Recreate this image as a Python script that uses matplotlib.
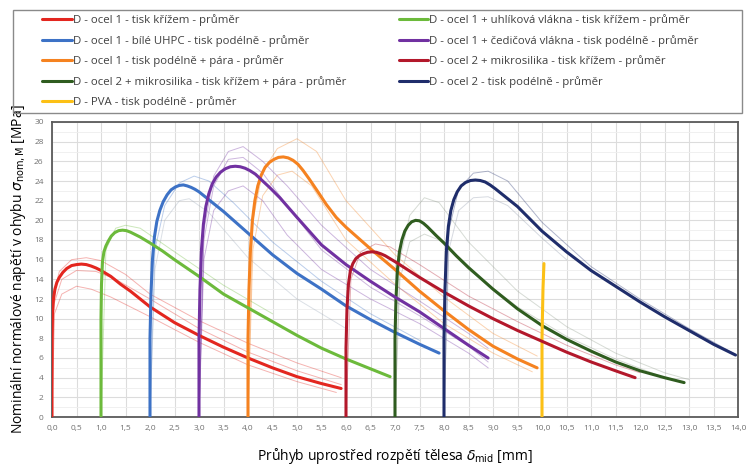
import numpy as np
import matplotlib
matplotlib.use('Agg')
import matplotlib.pyplot as plt
from matplotlib.patches import Rectangle
from matplotlib.ticker import MultipleLocator, FuncFormatter

plt.rcParams['font.family'] = ['Open Sans', 'DejaVu Sans']
plt.rcParams['mathtext.fontset'] = 'dejavusans'

# Legend labels (order as in the legend: left column, then right column)
labels = [
    'D - ocel 1 - tisk křížem - průměr',
    'D - ocel 1 - bílé UHPC - tisk podélně - průměr',
    'D - ocel 1 - tisk podélně + pára - průměr',
    'D - ocel 2 + mikrosilika - tisk křížem + pára - průměr',
    'D - PVA - tisk podélně - průměr',
    'D - ocel 1 + uhlíková vlákna - tisk křížem - průměr',
    'D - ocel 1 + čedičová vlákna - tisk podélně - průměr',
    'D - ocel 2 + mikrosilika - tisk křížem - průměr',
    'D - ocel 2 - tisk podélně - průměr',
]
colors = ['#e3261f', '#3d72c6', '#f58220', '#2f5c1f', '#fcc015',
          '#6cba3b', '#7131a1', '#b3182b', '#1f2d6b']

# Mean curves (deflection [mm], stress [MPa])
red_x = [0, 0.0, 0.01, 0.03, 0.06, 0.1, 0.15, 0.22, 0.3, 0.4, 0.5, 0.6, 0.7, 0.8, 0.9, 1.0, 1.2, 1.4, 1.6, 1.8,
         2.0, 2.5, 3.0, 3.5, 4.0, 4.5, 5.0, 5.5, 5.9]
red_y = [0, 8, 10.5, 12.0, 13.0, 13.7, 14.2, 14.7, 15.1, 15.4, 15.5, 15.55, 15.5, 15.35, 15.15, 14.9, 14.3, 13.5, 12.8, 12.0,
         11.2, 9.6, 8.3, 7.1, 6.0, 5.0, 4.1, 3.4, 2.9]
blue_x = [2.0, 2.0, 2.02, 2.05, 2.09, 2.14, 2.2, 2.27, 2.35, 2.43, 2.52, 2.6, 2.68, 2.76, 2.84, 2.92, 3.0, 3.2, 3.5,
          4.0, 4.5, 5.0, 5.5, 6.0, 6.5, 7.0, 7.5, 7.9]
blue_y = [0, 8, 12.5, 16.0, 18.3, 19.9, 21.0, 21.9, 22.6, 23.1, 23.4, 23.55, 23.6, 23.5, 23.35, 23.15, 22.9, 22.1, 20.9,
          18.7, 16.5, 14.6, 13.0, 11.3, 9.9, 8.6, 7.4, 6.5]
orange_x = [4.0, 4.0, 4.02, 4.05, 4.09, 4.14, 4.2, 4.27, 4.35, 4.44, 4.53, 4.62, 4.72, 4.82, 4.92, 5.02, 5.12, 5.25,
            5.4, 5.6, 5.8, 6.0, 6.5, 7.0, 7.5, 8.0, 8.5, 9.0, 9.5, 9.9]
orange_y = [0, 8, 13, 17, 20.0, 22.0, 23.5, 24.6, 25.4, 25.9, 26.2, 26.4, 26.45, 26.35, 26.1, 25.7, 25.1, 24.2,
            23.1, 21.6, 20.3, 19.3, 17.1, 15.0, 12.8, 10.8, 8.9, 7.2, 5.9, 5.0]
dgreen_x = [7.0, 7.0, 7.02, 7.05, 7.09, 7.14, 7.2, 7.27, 7.34, 7.42, 7.5, 7.58, 7.66, 7.75, 7.85, 8.0, 8.25, 8.5,
            9.0, 9.5, 10.0, 10.5, 11.0, 11.5, 12.0, 12.5, 12.9]
dgreen_y = [0, 8, 12, 15.0, 16.8, 18.0, 18.9, 19.5, 19.85, 20.0, 19.95, 19.7, 19.35, 18.9, 18.4, 17.7, 16.4, 15.2,
            13.0, 11.0, 9.3, 7.9, 6.7, 5.6, 4.7, 4.0, 3.5]
yellow_x = [10.0, 10.0, 10.02, 10.04]
yellow_y = [0, 8, 13, 15.6]
green_x = [1.0, 1.0, 1.01, 1.03, 1.06, 1.1, 1.15, 1.21, 1.28, 1.36, 1.44, 1.52, 1.6, 1.7, 1.8, 1.9, 2.0, 2.25, 2.5,
           3.0, 3.5, 4.0, 4.5, 5.0, 5.5, 6.0, 6.5, 6.9]
green_y = [0, 10, 13.5, 15.8, 16.8, 17.4, 17.9, 18.4, 18.75, 18.95, 19.0, 18.95, 18.8, 18.55, 18.3, 18.0, 17.7, 16.9, 16.0,
           14.3, 12.5, 11.1, 9.7, 8.3, 7.0, 5.9, 4.9, 4.1]
purple_x = [3.0, 3.0, 3.02, 3.05, 3.09, 3.14, 3.2, 3.27, 3.35, 3.44, 3.54, 3.64, 3.74, 3.84, 3.94, 4.04, 4.15, 4.3,
            4.45, 4.65, 5.0, 5.5, 6.0, 6.5, 7.0, 7.5, 8.0, 8.5, 8.9]
purple_y = [0, 8, 13, 17, 19.6, 21.4, 22.7, 23.7, 24.4, 24.9, 25.25, 25.45, 25.5, 25.45, 25.3, 25.05, 24.7, 24.0,
            23.3, 22.3, 20.3, 17.5, 15.5, 13.8, 12.2, 10.7, 9.0, 7.3, 6.0]
dred_x = [6.0, 6.0, 6.02, 6.05, 6.09, 6.14, 6.2, 6.27, 6.35, 6.44, 6.53, 6.62, 6.71, 6.8, 6.9, 7.0, 7.25, 7.5,
          8.0, 8.5, 9.0, 9.5, 10.0, 10.5, 11.0, 11.5, 11.9]
dred_y = [0, 7, 11, 13.5, 14.9, 15.6, 16.1, 16.4, 16.6, 16.75, 16.8, 16.75, 16.6, 16.4, 16.1, 15.8, 15.0, 14.2,
          12.7, 11.3, 10.0, 8.8, 7.7, 6.6, 5.6, 4.7, 4.0]
navy_x = [8.0, 8.0, 8.02, 8.05, 8.09, 8.14, 8.2, 8.27, 8.35, 8.44, 8.54, 8.64, 8.74, 8.84, 8.94, 9.05, 9.2, 9.35,
          9.5, 10.0, 10.5, 11.0, 11.5, 12.0, 12.5, 13.0, 13.5, 13.95]
navy_y = [0, 8, 13, 17, 19.4, 21.0, 22.1, 22.9, 23.5, 23.85, 24.05, 24.1, 24.05, 23.9, 23.6, 23.2, 22.6, 22.0,
          21.4, 18.9, 16.8, 14.9, 13.3, 11.7, 10.2, 8.8, 7.4, 6.3]

means = [(red_x, red_y), (blue_x, blue_y), (orange_x, orange_y), (dgreen_x, dgreen_y),
         (yellow_x, yellow_y), (green_x, green_y), (purple_x, purple_y),
         (dred_x, dred_y), (navy_x, navy_y)]

# Individual specimens (thin, light)
red_s1_x = [0, 0.03, 0.15, 0.4, 0.7, 1.0, 1.5, 2.0, 3.0, 4.0, 5.0, 5.9]
red_s1_y = [0, 12.5, 14.8, 16.0, 16.2, 15.9, 14.5, 12.5, 9.8, 7.5, 5.5, 4.0]
red_s2_x = [0, 0.05, 0.2, 0.5, 0.8, 1.2, 2.0, 3.0, 4.0, 5.0, 5.8]
red_s2_y = [0, 10.5, 12.5, 13.3, 13.0, 12.2, 10.2, 7.6, 5.3, 3.6, 2.5]
red_s3_x = [0, 0.04, 0.2, 0.5, 0.9, 1.3, 2.0, 3.0, 4.0, 5.0, 5.9]
red_s3_y = [0, 11.5, 14.0, 14.9, 14.8, 14.0, 12.0, 9.0, 6.6, 4.7, 3.3]
blue_s1_x = [2.0, 2.1, 2.3, 2.6, 2.9, 3.2, 3.7, 4.5, 5.5, 6.5, 7.5]
blue_s1_y = [0, 17, 21.5, 23.8, 24.5, 24.0, 21.8, 17.8, 13.8, 10.5, 7.8]
blue_s2_x = [2.0, 2.1, 2.3, 2.6, 2.8, 3.2, 4.0, 5.0, 6.0]
blue_s2_y = [0, 15, 20, 22, 22.2, 20.8, 16.2, 12.0, 9.0]
orange_s1_x = [4.0, 4.1, 4.3, 4.6, 5.0, 5.4, 6.0, 7.0, 8.0, 9.0, 9.9]
orange_s1_y = [0, 20, 25, 27.3, 28.3, 27.0, 22.0, 16.5, 12.2, 8.5, 6.2]
orange_s2_x = [4.0, 4.1, 4.3, 4.6, 4.9, 5.3, 6.0, 7.0, 8.0, 9.0, 9.8]
orange_s2_y = [0, 17, 22.5, 24.6, 25.0, 23.5, 18.0, 13.5, 9.5, 6.5, 4.6]
dgreen_s1_x = [7.0, 7.1, 7.3, 7.6, 7.9, 8.5, 9.5, 10.5, 11.5, 12.5, 13.0]
dgreen_s1_y = [0, 16, 20.5, 22.3, 21.8, 17.8, 12.8, 9.2, 6.5, 4.5, 3.8]
dgreen_s2_x = [7.0, 7.1, 7.3, 7.6, 7.9, 8.5, 9.5, 10.5, 11.5, 12.5]
dgreen_s2_y = [0, 14, 17.8, 18.6, 18.0, 15.0, 11.2, 8.2, 5.9, 4.0]
green_s1_x = [1.0, 1.1, 1.3, 1.5, 1.8, 2.5, 3.5, 4.5]
green_s1_y = [0, 17, 19.2, 19.5, 19.2, 16.8, 13.4, 10.5]
purple_s1_x = [3.0, 3.1, 3.3, 3.6, 3.9, 4.3, 4.8, 5.5, 6.5, 7.5, 8.5, 8.9]
purple_s1_y = [0, 19, 24.5, 27.0, 27.5, 26.0, 23.5, 19.5, 15.0, 11.8, 8.5, 7.0]
purple_s2_x = [3.0, 3.1, 3.3, 3.6, 3.9, 4.3, 4.8, 5.5, 6.5, 7.5, 8.5, 8.9]
purple_s2_y = [0, 16, 21.0, 23.0, 23.5, 22.0, 18.5, 15.0, 12.0, 9.5, 6.5, 5.0]
purple_s3_x = [3.0, 3.1, 3.3, 3.6, 3.9, 4.3, 4.8, 5.5, 6.5, 7.5, 8.5, 8.9]
purple_s3_y = [0, 18, 23.5, 26.2, 26.4, 24.8, 21.5, 17.0, 13.2, 10.3, 7.2, 5.6]
dred_s1_x = [6.0, 6.1, 6.3, 6.6, 6.9, 7.5, 8.5, 9.5, 10.5, 11.5, 12.0]
dred_s1_y = [0, 14, 16.8, 17.6, 17.3, 15.5, 12.3, 9.7, 7.3, 5.3, 4.5]
navy_s1_x = [8.0, 8.1, 8.3, 8.6, 8.9, 9.3, 10.0, 11.0, 12.0, 13.0, 13.9]
navy_s1_y = [0, 19, 23.2, 24.8, 25.0, 24.0, 19.8, 15.3, 12.0, 9.0, 6.5]
navy_s2_x = [8.0, 8.1, 8.3, 8.6, 8.9, 9.3, 10.0, 10.5]
navy_s2_y = [0, 17, 21, 22.3, 22.4, 21.5, 18.2, 16.0]

specimens = [
    (red_s1_x, red_s1_y, colors[0]), (red_s2_x, red_s2_y, colors[0]), (red_s3_x, red_s3_y, colors[0]),
    (blue_s1_x, blue_s1_y, colors[1]), (blue_s2_x, blue_s2_y, '#9aa7b8'),
    (orange_s1_x, orange_s1_y, colors[2]), (orange_s2_x, orange_s2_y, colors[2]),
    (dgreen_s1_x, dgreen_s1_y, '#8c9a88'), (dgreen_s2_x, dgreen_s2_y, '#8c9a88'),
    (green_s1_x, green_s1_y, colors[5]),
    (purple_s1_x, purple_s1_y, colors[6]), (purple_s2_x, purple_s2_y, colors[6]),
    (purple_s3_x, purple_s3_y, colors[6]),
    (dred_s1_x, dred_s1_y, colors[7]),
    (navy_s1_x, navy_s1_y, colors[8]), (navy_s2_x, navy_s2_y, '#8c96a8'),
]

fig = plt.figure(figsize=(7.5, 4.7), dpi=100)
ax = fig.add_axes([52 / 750, 1 - 417 / 470, 686 / 750, 295 / 470])

for sx, sy, c in specimens:
    ax.plot(sx, sy, color=c, lw=0.7, alpha=0.35, zorder=2)

handles = []
for (mx, my), c, lab in zip(means, colors, labels):
    h, = ax.plot(mx, my, color=c, lw=2.2, solid_capstyle='round', solid_joinstyle='round',
                 zorder=3, label=lab)
    handles.append(h)

ax.set_xlim(0, 14)
ax.set_ylim(0, 30)
ax.xaxis.set_major_locator(MultipleLocator(0.5))
ax.yaxis.set_major_locator(MultipleLocator(2))
ax.yaxis.set_minor_locator(MultipleLocator(1))
ax.xaxis.set_major_formatter(FuncFormatter(lambda v, p: f'{v:.1f}'.replace('.', ',')))
ax.yaxis.set_major_formatter(FuncFormatter(lambda v, p: f'{v:.0f}'))
ax.grid(True, which='major', color='#dcdcdc', lw=0.8, zorder=0)
ax.grid(True, which='minor', axis='y', color='#eeeeee', lw=0.6, zorder=0)
ax.tick_params(which='both', length=0, labelsize=6, labelcolor='#707070', pad=6)
for s in ax.spines.values():
    s.set_color('#5a5a5a')
    s.set_linewidth(1.3)

ax.set_xlabel(r'Průhyb uprostřed rozpětí tělesa $\delta_{\mathrm{mid}}$ [mm]', fontsize=10, labelpad=10)
ax.set_ylabel(r'Nominální normálové napětí v ohybu $\sigma_{\mathrm{nom,M}}$ [MPa]', fontsize=10, labelpad=4)

# legend box frame
fig.patches.append(Rectangle((13 / 750, 1 - 113 / 470), 729 / 750, 103 / 470,
                             transform=fig.transFigure, fill=False,
                             edgecolor='#8a8a8a', lw=1.0))

leg = fig.legend(handles=handles, loc='upper left', ncol=2,
                 bbox_to_anchor=(33 / 750, 1 - 5 / 470),
                 bbox_transform=fig.transFigure, fontsize=8.2, handlelength=2.6,
                 handletextpad=0.1, labelspacing=0.76, borderpad=0.3,
                 columnspacing=4.6, frameon=False)
for t in leg.get_texts():
    t.set_color('#404040')

fig.savefig('out.png', dpi=100)
